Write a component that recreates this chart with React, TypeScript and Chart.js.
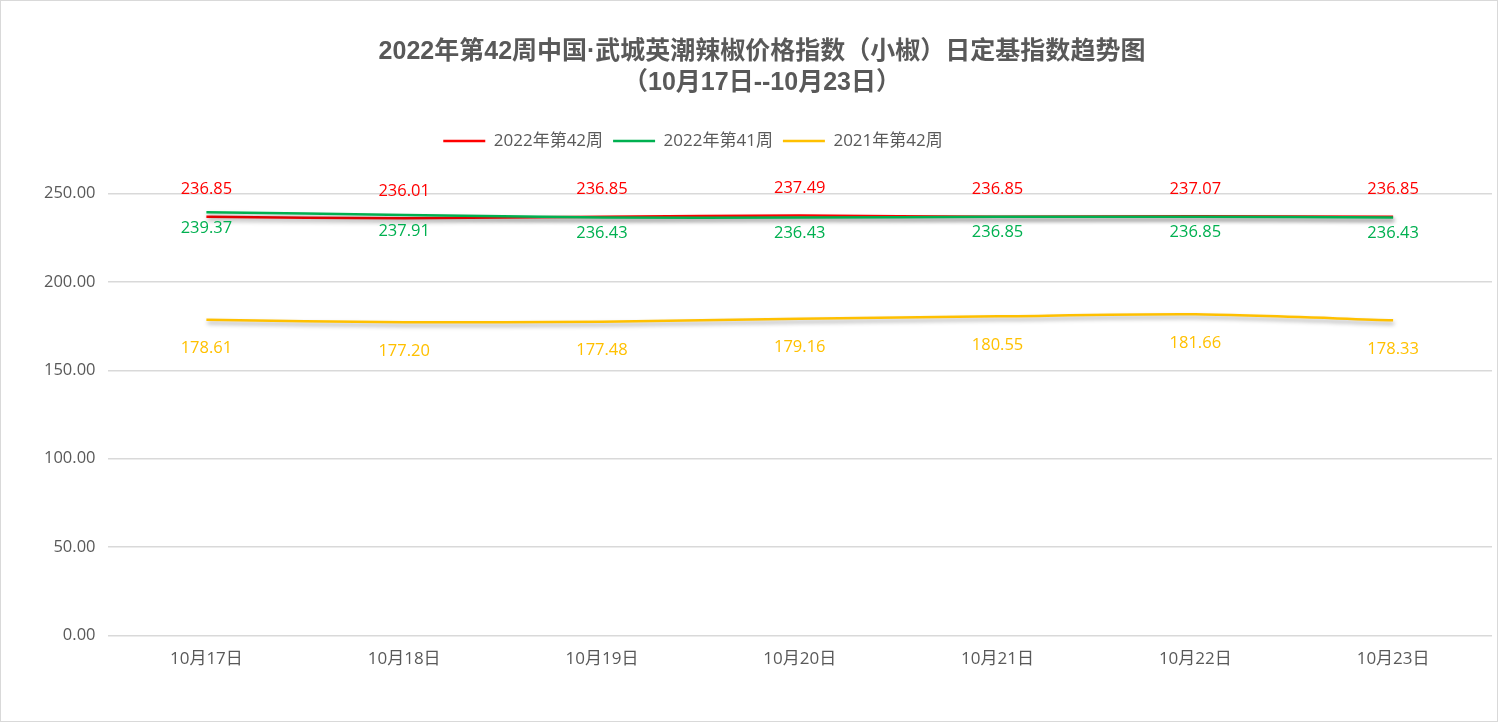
import React, { useEffect, useRef } from "react";
import { Chart, registerables } from "chart.js";

Chart.register(...registerables);

const categories = ["10月17日", "10月18日", "10月19日", "10月20日", "10月21日", "10月22日", "10月23日"];
const week42_2022 = [236.85, 236.01, 236.85, 237.49, 236.85, 237.07, 236.85];
const week41_2022 = [239.37, 237.91, 236.43, 236.43, 236.85, 236.85, 236.43];
const week42_2021 = [178.61, 177.2, 177.48, 179.16, 180.55, 181.66, 178.33];
const seriesNames = ["2022年第42周", "2022年第41周", "2021年第42周"];
const titleLines = ["2022年第42周中国·武城英潮辣椒价格指数（小椒）日定基指数趋势图", "（10月17日--10月23日）"];
const yTicks = [0, 50, 100, 150, 200, 250];

const FONT = "'Open Sans', 'Noto Sans CJK SC', sans-serif";
const TEXT = "#595959";
const labelOffsets = [-27, 16, 29];

const shadowPlugin = {
  id: "lineShadow",
  beforeDatasetDraw(chart: any) {
    const ctx = chart.ctx;
    ctx.save();
    ctx.shadowColor = "rgba(0,0,0,0.35)";
    ctx.shadowBlur = 4;
    ctx.shadowOffsetX = 1;
    ctx.shadowOffsetY = 3;
  },
  afterDatasetDraw(chart: any) {
    chart.ctx.restore();
  },
};

const labelPlugin = {
  id: "pointLabels",
  afterDatasetsDraw(chart: any) {
    const ctx = chart.ctx;
    ctx.save();
    ctx.font = `16.5px ${FONT}`;
    ctx.textAlign = "center";
    ctx.textBaseline = "middle";
    chart.data.datasets.forEach((ds: any, i: number) => {
      const meta = chart.getDatasetMeta(i);
      ctx.fillStyle = ds.borderColor;
      meta.data.forEach((pt: any, j: number) => {
        ctx.fillText(Number(ds.data[j]).toFixed(2), pt.x, pt.y + labelOffsets[i]);
      });
    });
    ctx.restore();
  },
};

const legendGapPlugin = {
  id: "legendGap",
  afterInit(chart: any) {
    const legend = chart.legend;
    if (legend && !legend._gapPatched) {
      const orig = legend.fit;
      legend.fit = function () {
        orig.call(this);
        this.height += 34;
      };
      legend._gapPatched = true;
    }
  },
  afterLayout(chart: any) {
    const legend = chart.legend;
    if (legend) {
      legend.left -= 138;
    }
  },
};

export default function App() {
  const ref = useRef<HTMLCanvasElement | null>(null);

  useEffect(() => {
    document.body.style.margin = "0";
    if (!ref.current) return;
    const colors = ["#FF0000", "#00B050", "#FFC000"];
    const values = [week42_2022, week41_2022, week42_2021];
    const chart = new Chart(ref.current, {
      type: "line",
      data: {
        labels: categories,
        datasets: values.map((v, i) => ({
          label: seriesNames[i],
          data: v,
          borderColor: colors[i],
          backgroundColor: colors[i],
          borderWidth: 2.5,
          pointRadius: 0,
          tension: 0.25,
          fill: false,
          order: i === 0 ? 2 : i === 1 ? 1 : 3,
        })),
      },
      options: {
        animation: false,
        responsive: true,
        maintainAspectRatio: false,
        layout: { padding: { left: 31, right: 5, top: 0, bottom: 47 } },
        plugins: {
          title: {
            display: true,
            text: titleLines,
            color: TEXT,
            font: { family: "'Liberation Sans', 'Noto Sans CJK SC', sans-serif", size: 25, weight: "bold", lineHeight: 1.25 },
            padding: { top: 35, bottom: 24 },
          },
          legend: {
            display: true,
            position: "top",
            labels: {
              usePointStyle: true,
              pointStyle: "line",
              pointStyleWidth: 42,
              color: TEXT,
              font: { family: FONT, size: 17 },
              padding: 10,
              sort: (a: any, b: any) => a.datasetIndex - b.datasetIndex,
            },
          },
          tooltip: { enabled: false },
        },
        scales: {
          x: {
            offset: true,
            grid: { display: false },
            border: { display: false },
            ticks: { color: TEXT, font: { family: FONT, size: 17 }, padding: 5 },
          },
          y: {
            min: 0,
            max: 250,
            afterBuildTicks: (axis: any) => {
              axis.ticks = yTicks.map((v) => ({ value: v }));
            },
            grid: { color: "#d9d9d9", lineWidth: 1.5, drawTicks: false },
            border: { display: false },
            ticks: {
              color: TEXT,
              font: { family: FONT, size: 16.5 },
              padding: 12,
              callback: (v: any) => Number(v).toFixed(2),
            },
          },
        },
      },
      plugins: [shadowPlugin, labelPlugin, legendGapPlugin],
    });
    return () => chart.destroy();
  }, []);

  return (
    <div
      style={{
        width: 1498,
        height: 722,
        border: "1px solid #d9d9d9",
        boxSizing: "border-box",
        background: "#fff",
        position: "relative",
      }}
    >
      <canvas ref={ref} />
    </div>
  );
}
